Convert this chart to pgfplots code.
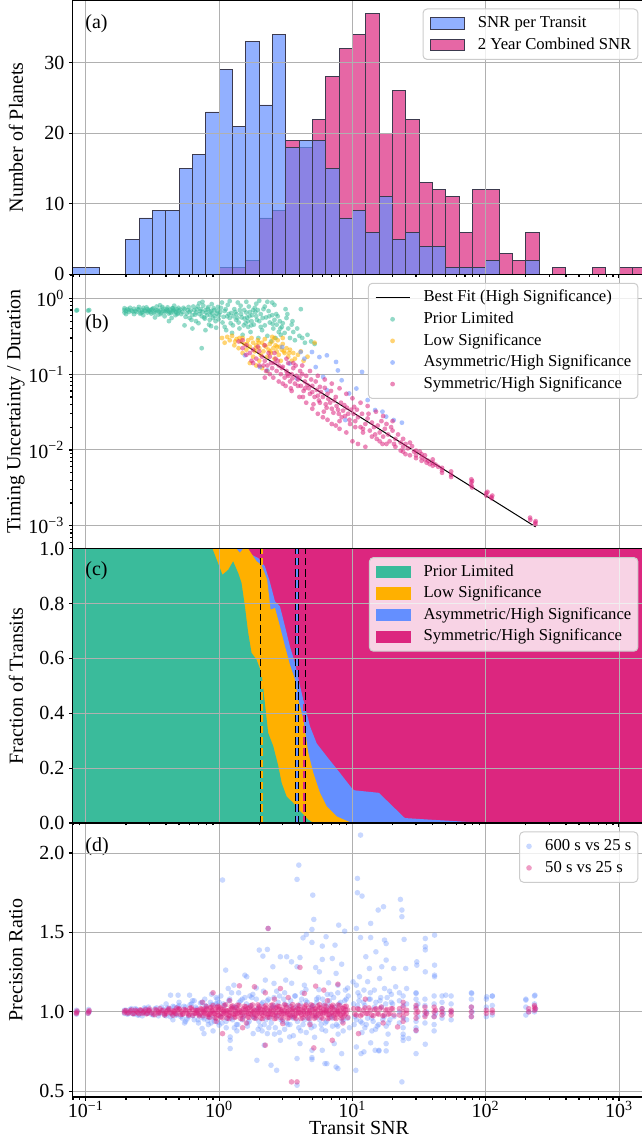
\documentclass[border=0pt]{standalone}
\usepackage{fontspec}
\setmainfont{Liberation Serif}
\usepackage{pgfplots}
\pgfplotsset{compat=1.18}
\definecolor{cgreen}{RGB}{58,187,155}
\definecolor{corange}{RGB}{255,176,0}
\definecolor{cblue}{RGB}{100,143,255}
\definecolor{cmag}{RGB}{220,38,127}
\definecolor{gridc}{RGB}{176,176,176}
\definecolor{legc}{RGB}{204,204,204}
\definecolor{edgec}{RGB}{60,58,78}
\begin{document}
\begin{tikzpicture}
\useasboundingbox (0,0) rectangle (321pt,571pt);
% ---------------- (a) ----------------
\begin{axis}[at={(36.25pt,433.8pt)}, anchor=south west,
  scale only axis, width=286.6pt, height=137.15pt,
  xmode=log, xmin=0.07943, xmax=1584.9,
  axis on top, grid=major, major grid style={line width=0.5pt, draw=gridc},
  tick align=outside, tick pos=left, major tick length=1.8pt, minor tick length=1.2pt,
  tick style={black, line width=0.6pt}, axis line style={line width=0.8pt},
  xtick={0.1,1,10,100,1000}, xticklabels={},
  minor xtick={0.08,0.09,0.2,0.3,0.4,0.5,0.6,0.7,0.8,0.9,2,3,4,5,6,7,8,9,20,30,40,50,60,70,80,90,200,300,400,500,600,700,800,900},
  /pgf/number format/assume math mode=true,
  yticklabel style={anchor=east, inner sep=0pt, xshift=-2.1pt},
  ylabel style={at={(axis description cs:-0.0986,0.5)}, anchor=center},
  legend cell align=left,
  legend style={at={(rel axis cs:1,1)}, anchor=north east, xshift=-3.65pt, yshift=-4.2pt,
    font=\fontsize{8.33}{10}\selectfont, draw=legc, line width=0.5pt, rounded corners=2pt,
    fill=white, fill opacity=0.8, draw opacity=1, text opacity=1,
    inner xsep=3.3pt, inner ysep=3.3pt, row sep=3pt, column sep=6.7pt,
    nodes={inner sep=0pt, text height=6pt, text depth=1.8pt}},
  ymin=0, ymax=38.85, ytick={0,10,20,30}, ylabel={Number of Planets}]
\addlegendimage{area legend, sharp corners, fill=cblue, fill opacity=0.7, draw=edgec, line width=0.4pt}
\addlegendentry{SNR per Transit}
\addlegendimage{area legend, sharp corners, fill=cmag, fill opacity=0.7, draw=edgec, line width=0.4pt}
\addlegendentry{2 Year Combined SNR}
\addplot[const plot, forget plot, fill=cmag, fill opacity=0.7, draw=edgec, line width=0.4pt] coordinates {
(1,1) (1.2589,1) (1.5849,2) (1.9953,8) (2.5119,9) (3.1623,19) (3.9811,18) (5.0119,22) (6.3096,28) (7.9433,32) (10,34) (12.589,37) (15.849,20) (19.953,26) (25.119,22) (31.623,13) (39.811,12) (50.119,11) (63.096,6) (79.433,12) (100,12) (125.89,3) (158.49,2) (199.53,6) (251.19,0) (316.23,1) (398.11,0) (501.19,0) (630.96,1) (794.33,0) (1000,1) (1258.9,1) (1584.9,1)} \closedcycle;
\addplot[ycomb, forget plot, draw=edgec, line width=0.4pt, no marks] coordinates {
(1,1) (1.2589,1) (1.5849,2) (1.9953,8) (2.5119,9) (3.1623,19) (3.9811,19) (5.0119,22) (6.3096,28) (7.9433,32) (10,34) (12.589,37) (15.849,37) (19.953,26) (25.119,26) (31.623,22) (39.811,13) (50.119,12) (63.096,11) (79.433,12) (100,12) (125.89,12) (158.49,3) (199.53,6) (251.19,6) (316.23,1) (398.11,1) (630.96,1) (794.33,1) (1000,1) (1258.9,1) (1584.9,1)};
\addplot[const plot, forget plot, fill=cblue, fill opacity=0.7, draw=edgec, line width=0.4pt] coordinates {
(0.07943,1) (0.1,1) (0.12589,0) (0.15849,0) (0.19953,5) (0.25119,8) (0.31623,9) (0.39811,9) (0.50119,15) (0.63096,17) (0.79433,23) (1,29) (1.2589,21) (1.5849,33) (1.9953,24) (2.5119,34) (3.1623,18) (3.9811,19) (5.0119,19) (6.3096,15) (7.9433,8) (10,9) (12.589,6) (15.849,11) (19.953,5) (25.119,6) (31.623,4) (39.811,4) (50.119,1) (63.096,1) (79.433,1) (100,2) (125.89,0) (158.49,0) (199.53,2) (251.19,2)} \closedcycle;
\addplot[ycomb, forget plot, draw=edgec, line width=0.4pt, no marks] coordinates {
(0.07943,1) (0.1,1) (0.12589,1) (0.19953,5) (0.25119,8) (0.31623,9) (0.39811,9) (0.50119,15) (0.63096,17) (0.79433,23) (1,29) (1.2589,29) (1.5849,33) (1.9953,33) (2.5119,34) (3.1623,34) (3.9811,19) (5.0119,19) (6.3096,19) (7.9433,15) (10,9) (12.589,9) (15.849,11) (19.953,11) (25.119,6) (31.623,6) (39.811,4) (50.119,4) (63.096,1) (79.433,1) (100,2) (125.89,2) (199.53,2) (251.19,2)};
\node[anchor=west, inner sep=0pt] at (rel axis cs:0.0218,0.914) {(a)};
\end{axis}
% ---------------- (b) ----------------
\begin{axis}[at={(36.25pt,296.65pt)}, anchor=south west,
  scale only axis, width=286.6pt, height=137.15pt,
  xmode=log, xmin=0.07943, xmax=1584.9,
  axis on top, grid=major, major grid style={line width=0.5pt, draw=gridc},
  tick align=outside, tick pos=left, major tick length=1.8pt, minor tick length=1.2pt,
  tick style={black, line width=0.6pt}, axis line style={line width=0.8pt},
  xtick={0.1,1,10,100,1000}, xticklabels={},
  minor xtick={0.08,0.09,0.2,0.3,0.4,0.5,0.6,0.7,0.8,0.9,2,3,4,5,6,7,8,9,20,30,40,50,60,70,80,90,200,300,400,500,600,700,800,900},
  /pgf/number format/assume math mode=true,
  yticklabel style={anchor=east, inner sep=0pt, xshift=-2.1pt},
  ylabel style={at={(axis description cs:-0.0986,0.5)}, anchor=center},
  legend cell align=left,
  legend style={at={(rel axis cs:1,1)}, anchor=north east, xshift=-3.65pt, yshift=-4.2pt,
    font=\fontsize{8.33}{10}\selectfont, draw=legc, line width=0.5pt, rounded corners=2pt,
    fill=white, fill opacity=0.8, draw opacity=1, text opacity=1,
    inner xsep=3.3pt, inner ysep=3.3pt, row sep=3pt, column sep=6.7pt,
    nodes={inner sep=0pt, text height=6pt, text depth=1.8pt}},
  ymode=log, ymin=4.98e-4, ymax=2.07,
  ytick={0.001,0.01,0.1,1},
  yticklabels={10\textsuperscript{−3},10\textsuperscript{−2},10\textsuperscript{−1},10\textsuperscript{0}},
  minor ytick={0.0005,0.0006,0.0007,0.0008,0.0009,0.002,0.003,0.004,0.005,0.006,0.007,0.008,0.009,0.02,0.03,0.04,0.05,0.06,0.07,0.08,0.09,0.2,0.3,0.4,0.5,0.6,0.7,0.8,0.9,2},
  ylabel={Timing Uncertainty / Duration}]
\addlegendimage{black, line width=0.5pt, sharp corners}
\addlegendentry{Best Fit (High Significance)}
\addplot[only marks, mark=*, color=cgreen, mark size=1.2pt, mark options={fill=cgreen, fill opacity=0.55, draw opacity=0}] coordinates {
(0.085,0.69) (0.086,0.7) (0.104,0.69) (0.106,0.7)
(0.195,0.65) (0.195,0.7) (0.195,0.74) (0.2,0.68) (0.2,0.62) (0.205,0.72) (0.21,0.66) (0.21,0.7)
(0.22,0.69) (0.23,0.73) (0.24,0.66) (0.25,0.71) (0.26,0.64) (0.27,0.75) (0.28,0.68) (0.29,0.72) (0.23,0.62) (0.25,0.77) (0.27,0.6) (0.29,0.65)
(0.215,0.75) (0.235,0.68) (0.255,0.63) (0.265,0.7) (0.285,0.76) (0.305,0.66) (0.315,0.72) (0.335,0.7) (0.355,0.67) (0.375,0.77) (0.395,0.66) (0.415,0.69) (0.435,0.64) (0.455,0.7) (0.475,0.66) (0.495,0.75)
(0.3,0.7) (0.31,0.63) (0.32,0.74) (0.33,0.67) (0.34,0.78) (0.35,0.61) (0.36,0.7) (0.37,0.65) (0.38,0.73) (0.39,0.58) (0.4,0.69) (0.41,0.76) (0.42,0.63) (0.43,0.71) (0.44,0.55) (0.45,0.67) (0.46,0.8) (0.47,0.6) (0.48,0.72) (0.49,0.64) (0.5,0.69) (0.33,0.56) (0.42,0.5) (0.36,0.81) (0.45,0.74)
(0.225,0.67) (0.245,0.72) (0.265,0.66) (0.275,0.69) (0.295,0.68) (0.31,0.71) (0.325,0.64) (0.345,0.69) (0.365,0.62) (0.385,0.68) (0.405,0.72) (0.425,0.66) (0.445,0.74) (0.465,0.69) (0.485,0.62)
(0.51,0.71) (0.53,0.66) (0.55,0.72) (0.57,0.63) (0.59,0.77) (0.61,0.69) (0.63,0.6) (0.65,0.7) (0.67,0.65) (0.69,0.78) (0.71,0.62) (0.73,0.72) (0.75,0.66) (0.77,0.56) (0.79,0.7) (0.81,0.6) (0.83,0.77) (0.85,0.52) (0.87,0.68) (0.89,0.63) (0.91,0.74) (0.93,0.58) (0.97,0.68) (0.99,0.53)
(0.52,0.62) (0.54,0.75) (0.56,0.57) (0.58,0.7) (0.6,0.66) (0.62,0.52) (0.64,0.78) (0.66,0.61) (0.68,0.72) (0.7,0.47) (0.72,0.68) (0.74,0.58) (0.76,0.8) (0.78,0.54) (0.8,0.65) (0.82,0.73) (0.84,0.45) (0.86,0.6) (0.88,0.84) (0.9,0.55) (0.92,0.7) (0.94,0.5) (0.96,0.63) (0.98,0.77) (0.55,0.44) (0.63,0.4) (0.71,0.86) (0.79,0.38) (0.87,0.43) (0.95,0.41) (0.74,0.22) (0.6,0.55) (0.85,0.67) (0.67,0.5) (0.75,0.9)
(1.0,0.6) (1.03,0.75) (1.06,0.48) (1.1,0.68) (1.13,0.38) (1.16,0.82) (1.2,0.55) (1.23,0.64) (1.27,0.44) (1.3,0.72) (1.34,0.52) (1.38,0.88) (1.42,0.4) (1.46,0.62) (1.5,0.33) (1.54,0.7) (1.58,0.47) (1.62,0.56) (1.67,0.78) (1.72,0.36) (1.77,0.6) (1.82,0.45) (1.87,0.66) (1.92,0.52) (1.97,0.3) (1.05,0.88) (1.25,0.35) (1.45,0.8) (1.65,0.42) (1.85,0.75) (1.15,0.58) (1.35,0.62) (1.55,0.54) (1.75,0.5) (1.95,0.7) (1.1,0.42) (1.4,0.48) (1.7,0.66)
(1.02,0.66) (1.08,0.57) (1.12,0.72) (1.18,0.62) (1.22,0.47) (1.28,0.58) (1.32,0.66) (1.37,0.55) (1.43,0.7) (1.48,0.56) (1.53,0.44) (1.6,0.65) (1.64,0.5) (1.69,0.58) (1.74,0.44) (1.8,0.7) (1.9,0.58) (1.2,0.92) (1.6,0.9) (1.9,0.85)
(2.0,0.5) (2.05,0.62) (2.1,0.38) (2.15,0.72) (2.2,0.44) (2.25,0.56) (2.3,0.32) (2.35,0.68) (2.4,0.48) (2.45,0.27) (2.5,0.6) (2.55,0.4) (2.6,0.52) (2.65,0.3) (2.7,0.45) (2.75,0.58) (2.8,0.36) (2.85,0.5) (2.9,0.33) (2.95,0.42) (2.3,0.9) (2.6,0.82) (2.2,0.78)
(2.05,0.42) (2.12,0.55) (2.38,0.58) (2.52,0.46) (2.68,0.62) (2.88,0.4) (2.0,0.93) (2.5,0.88)
(3.0,0.47) (3.1,0.35) (3.2,0.55) (3.3,0.4) (3.4,0.3) (3.5,0.45) (3.6,0.36) (3.7,0.28) (3.85,0.4) (4.0,0.32) (4.1,0.72) (4.2,0.3) (4.4,0.26) (4.6,0.33) (4.9,0.27) (5.2,0.25) (3.25,0.62) (3.55,0.5) (3.15,0.72)};
\addlegendentry{Prior Limited}
\addplot[only marks, mark=*, color=corange, mark size=1.2pt, mark options={fill=corange, fill opacity=0.55, draw opacity=0}] coordinates {
(1.05,0.3) (1.1,0.26) (1.15,0.31) (1.2,0.28) (1.3,0.24) (1.35,0.29) (1.4,0.22) (1.45,0.27) (1.5,0.3) (1.55,0.25) (1.6,0.21) (1.65,0.28) (1.7,0.23) (1.75,0.3) (1.8,0.26) (1.85,0.2) (1.9,0.24) (1.95,0.28) (2.0,0.22) (2.05,0.18) (2.1,0.26) (2.15,0.2) (2.2,0.29) (2.25,0.23) (2.3,0.17) (2.35,0.21) (2.4,0.25) (2.45,0.19) (2.5,0.27) (2.55,0.22) (2.6,0.16) (2.65,0.24) (2.7,0.2) (2.75,0.28) (2.8,0.18) (2.85,0.23) (2.9,0.15) (2.95,0.21) (3.0,0.25) (3.1,0.19) (3.2,0.22) (3.3,0.17) (3.4,0.21) (3.5,0.15) (3.6,0.19) (3.7,0.16) (3.9,0.18) (4.1,0.2) (4.3,0.15) (4.6,0.17) (5.2,0.26) (1.25,0.32) (1.7,0.14) (1.9,0.13) (2.1,0.12) (2.0,0.15) (2.3,0.11) (1.8,0.17) (1.5,0.19) (2.6,0.3) (3.0,0.3)
(1.32,0.27) (1.62,0.25) (1.88,0.22) (2.18,0.24) (2.42,0.2) (2.72,0.23) (3.05,0.2) (3.35,0.19) (1.42,0.3) (1.98,0.26) (2.5,0.31)};
\addlegendentry{Low Significance}
\addplot[only marks, mark=*, color=cblue, mark size=1.2pt, mark options={fill=cblue, fill opacity=0.55, draw opacity=0}] coordinates {
(4.97,0.196) (5.65,0.168) (6.43,0.177) (7.54,0.145) (7.78,0.112) (11.8,0.107) (10.7,0.0646) (17.9,0.0275) (23.5,0.0229) (14.8,0.0336) (2.3,0.112) (3.38,0.138) (3.84,0.0875) (4.36,0.16) (5.3,0.124) (6.03,0.092) (8.3,0.083) (9.44,0.0556) (13.0,0.0455) (16.8,0.032) (20.4,0.0248) (1.56,0.177) (2.02,0.124) (2.97,0.228) (4.09,0.196) (8.85,0.0248) (6.43,0.0615)};
\addlegendentry{Asymmetric/High Significance}
\addplot[only marks, mark=*, color=cmag, mark size=1.2pt, mark options={fill=cmag, fill opacity=0.55, draw opacity=0}] coordinates {
(1.4,0.27) (1.5,0.22) (1.6,0.24) (1.7,0.19) (1.8,0.21) (1.9,0.16) (2.0,0.2) (1.75,0.15) (2.1,0.17) (1.95,0.23)
(2.2,0.15) (2.3,0.13) (2.4,0.17) (2.5,0.12) (2.6,0.14) (2.7,0.11) (2.8,0.13) (2.9,0.10) (2.35,0.19) (2.55,0.09) (2.65,0.16) (2.25,0.11) (2.45,0.14) (2.75,0.15) (2.95,0.12) (2.15,0.13)
(3.0,0.125) (3.1,0.09) (3.2,0.11) (3.3,0.14) (3.4,0.08) (3.5,0.10) (3.6,0.12) (3.7,0.075) (3.8,0.095) (3.9,0.085) (3.15,0.07) (3.45,0.065) (3.75,0.13) (3.25,0.1) (3.55,0.088)
(4.0,0.09) (4.1,0.07) (4.2,0.1) (4.3,0.06) (4.4,0.08) (4.6,0.072) (4.8,0.055) (4.9,0.085) (4.5,0.095) (4.7,0.065) (4.25,0.05) (4.05,0.11)
(5.0,0.07) (5.2,0.05) (5.4,0.062) (5.6,0.045) (5.8,0.058) (6.0,0.05) (6.3,0.04) (6.5,0.055) (6.8,0.042) (7.0,0.035) (5.3,0.08) (5.7,0.068) (6.1,0.032) (6.6,0.047) (5.1,0.04) (6.9,0.06) (5.5,0.052) (6.2,0.066)
(7.3,0.045) (7.6,0.038) (7.9,0.03) (8.2,0.042) (8.5,0.033) (8.8,0.028) (9.1,0.036) (9.5,0.025) (7.5,0.05) (8.0,0.024) (8.7,0.039) (9.3,0.03) (9.8,0.034) (7.8,0.034)
(10.2,0.03) (10.5,0.024) (10.8,0.034) (11,0.027) (11.5,0.02) (11.8,0.03) (12.5,0.022) (13,0.026) (13.5,0.018) (14,0.023) (14.5,0.02) (10.3,0.037) (12,0.017) (13.2,0.03) (14.8,0.016)
(15.5,0.021) (16,0.017) (16.5,0.024) (17,0.015) (17.5,0.019) (18,0.022) (18.5,0.016) (19,0.013) (20,0.018) (21,0.014) (22,0.016) (15.2,0.014) (19.5,0.02) (16.8,0.012) (20.5,0.012)
(3.5,0.06) (4.0,0.05) (4.5,0.042) (5.0,0.035) (5.5,0.03) (6.0,0.027) (6.5,0.025) (7.0,0.022) (7.5,0.021) (8.0,0.019) (9.0,0.017) (10,0.013) (11,0.012) (12.5,0.011)
(3.2,0.16) (3.6,0.14) (4.2,0.13) (4.8,0.11) (5.5,0.095) (6.2,0.085) (7,0.075) (8,0.065) (9,0.055) (10,0.048) (11.5,0.042) (13,0.038) (15,0.032) (17,0.028) (20,0.024)
(3.3,0.095) (3.9,0.07) (4.4,0.065) (5.0,0.058) (5.7,0.042) (6.4,0.036) (7.2,0.031) (8.3,0.027) (9.6,0.022) (10.5,0.02) (12,0.019) (14,0.015) (16,0.013) (18,0.012) (21,0.011) (25,0.0088) (27,0.0125) (32,0.0095) (36,0.0068) (2.8,0.08) (2.4,0.1) (2.2,0.09) (3.0,0.075) (2.6,0.19) (2.0,0.13) (1.8,0.14) (1.6,0.18) (1.5,0.28) (2.2,0.24)
(23,0.0125) (24,0.014) (24,0.011) (24,0.0095) (25,0.012) (26,0.0105) (27,0.0085) (28,0.0112) (29,0.0095) (30,0.0098) (30,0.0085) (30,0.0078) (23,0.0098)
(33,0.008) (33,0.0072) (33,0.0088) (35,0.0085) (35,0.0075) (37,0.0072) (38,0.0065) (40,0.0068) (40,0.0075) (40,0.0062) (42,0.0064) (44,0.006)
(47,0.0058) (47,0.0054) (47,0.005) (55,0.0052) (55,0.0047) (55,0.0044)
(78,0.0041) (78,0.0037) (78,0.0034) (79,0.0039) (79,0.0032)
(101,0.0027) (101,0.0025) (103,0.0028) (110,0.0024) (111,0.0023) (112,0.0025)
(215,0.00128) (216,0.0012) (235,0.0011) (236,0.00105) (237,0.00115)};
\addlegendentry{Symmetric/High Significance}
\addplot[forget plot, black, line width=0.5pt] coordinates {(1.44,0.265) (237,0.000965)};
\node[anchor=west, inner sep=0pt] at (rel axis cs:0.0218,0.819) {(b)};
\end{axis}
% ---------------- (c) ----------------
\begin{axis}[at={(36.25pt,159.5pt)}, anchor=south west,
  scale only axis, width=286.6pt, height=137.15pt,
  xmode=log, xmin=0.07943, xmax=1584.9,
  axis on top, grid=major, major grid style={line width=0.5pt, draw=gridc},
  tick align=outside, tick pos=left, major tick length=1.8pt, minor tick length=1.2pt,
  tick style={black, line width=0.6pt}, axis line style={line width=0.8pt},
  xtick={0.1,1,10,100,1000}, xticklabels={},
  minor xtick={0.08,0.09,0.2,0.3,0.4,0.5,0.6,0.7,0.8,0.9,2,3,4,5,6,7,8,9,20,30,40,50,60,70,80,90,200,300,400,500,600,700,800,900},
  /pgf/number format/assume math mode=true,
  /pgf/number format/fixed, /pgf/number format/fixed zerofill, /pgf/number format/precision=1,
  yticklabel style={anchor=east, inner sep=0pt, xshift=-2.1pt},
  ylabel style={at={(axis description cs:-0.0986,0.5)}, anchor=center},
  legend cell align=left,
  legend style={at={(rel axis cs:1,1)}, anchor=north east, xshift=-3.65pt, yshift=-4.2pt,
    font=\fontsize{8.33}{10}\selectfont, draw=legc, line width=0.5pt, rounded corners=2pt,
    fill=white, fill opacity=0.8, draw opacity=1, text opacity=1,
    inner xsep=3.3pt, inner ysep=3.3pt, row sep=3pt, column sep=6.7pt,
    nodes={inner sep=0pt, text height=6pt, text depth=1.8pt}},
  ymin=0, ymax=1, ytick={0,0.2,0.4,0.6,0.8,1},
  ylabel={Fraction of Transits}]
\addlegendimage{area legend, sharp corners, fill=cgreen, draw=cgreen, fill opacity=1, line width=0pt}
\addlegendentry{Prior Limited}
\addlegendimage{area legend, sharp corners, fill=corange, draw=corange, fill opacity=1, line width=0pt}
\addlegendentry{Low Significance}
\addlegendimage{area legend, sharp corners, fill=cblue, draw=cblue, fill opacity=1, line width=0pt}
\addlegendentry{Asymmetric/High Significance}
\addlegendimage{area legend, sharp corners, fill=cmag, draw=cmag, fill opacity=1, line width=0pt}
\addlegendentry{Symmetric/High Significance}
\addplot[forget plot, fill=cmag, draw=none] coordinates {(0.05,1) (2000,1)} \closedcycle;
\addplot[forget plot, fill=cblue, draw=none] coordinates {
(0.05,1) (1.652,1) (1.718,0.98) (1.963,0.966) (2.203,0.936) (2.377,0.887) (2.624,0.808) (2.858,0.79) (3.119,0.717) (3.396,0.644) (3.707,0.583) (4.046,0.498) (4.406,0.425) (4.808,0.352) (5.395,0.29) (6.412,0.243) (8.072,0.182) (10,0.124) (10.4,0.119) (15.78,0.11) (24.72,0.018) (38.8,0.012) (73.6,0.004) (101.6,0) (2000,0)} \closedcycle;
\addplot[forget plot, fill=corange, draw=none] coordinates {
(0.05,1) (1.349,1) (1.429,0.985) (1.514,1) (1.652,1) (1.91,0.954) (2.08,0.94) (2.291,0.887) (2.432,0.778) (2.624,0.784) (2.858,0.717) (3.119,0.644) (3.396,0.577) (3.707,0.523) (3.926,0.45) (4.285,0.377) (4.667,0.255) (5.093,0.182) (5.715,0.109) (6.412,0.061) (7.621,0.024) (9.057,0.008) (10,0) (2000,0)} \closedcycle;
\addplot[forget plot, fill=cgreen, draw=none] coordinates {
(0.05,1) (0.891,1) (1.059,0.905) (1.17,0.923) (1.274,0.954) (1.39,0.911) (1.472,0.875) (1.56,0.79) (1.652,0.693) (1.75,0.62) (1.91,0.595) (2.08,0.547) (2.203,0.437) (2.333,0.328) (2.547,0.28) (2.78,0.207) (2.944,0.146) (3.206,0.097) (3.597,0.073) (4.046,0.043) (4.667,0.012) (5.093,0) (2000,0)} \closedcycle;
\addplot[forget plot, draw=black, line width=0.35pt, dash pattern=on 3.7pt off 1.9pt, double=corange, double distance=0.9pt] coordinates {(2.09,0) (2.09,1)};
\addplot[forget plot, draw=black, line width=0.35pt, dash pattern=on 3.7pt off 1.9pt, double=cblue, double distance=0.9pt] coordinates {(3.84,0) (3.84,1)};
\addplot[forget plot, draw=black, line width=0.35pt, dash pattern=on 3.7pt off 1.9pt, double=cmag, double distance=0.9pt] coordinates {(4.35,0) (4.35,1)};
\node[anchor=west, inner sep=0pt] at (rel axis cs:0.0218,0.92) {(c)};
\end{axis}
% ---------------- (d) ----------------
\begin{axis}[at={(36.25pt,22.35pt)}, anchor=south west,
  scale only axis, width=286.6pt, height=137.15pt,
  xmode=log, xmin=0.07943, xmax=1584.9,
  axis on top, grid=major, major grid style={line width=0.5pt, draw=gridc},
  tick align=outside, tick pos=left, major tick length=1.8pt, minor tick length=1.2pt,
  tick style={black, line width=0.6pt}, axis line style={line width=0.8pt},
  xtick={0.1,1,10,100,1000},
  xticklabels={10\textsuperscript{−1},10\textsuperscript{0},10\textsuperscript{1},10\textsuperscript{2},10\textsuperscript{3}},
  minor xtick={0.08,0.09,0.2,0.3,0.4,0.5,0.6,0.7,0.8,0.9,2,3,4,5,6,7,8,9,20,30,40,50,60,70,80,90,200,300,400,500,600,700,800,900},
  /pgf/number format/assume math mode=true,
  /pgf/number format/fixed, /pgf/number format/fixed zerofill, /pgf/number format/precision=1,
  yticklabel style={anchor=east, inner sep=0pt, xshift=-2.1pt},
  xticklabel style={anchor=base, inner sep=0pt, yshift=-8.5pt},
  ylabel style={at={(axis description cs:-0.0986,0.5)}, anchor=center},
  xlabel style={at={(axis description cs:0.5,0)}, anchor=base, yshift=-18.85pt},
  legend cell align=left,
  legend style={at={(rel axis cs:1,1)}, anchor=north east, xshift=-3.65pt, yshift=-4.2pt,
    font=\fontsize{8.33}{10}\selectfont, draw=legc, line width=0.5pt, rounded corners=2pt,
    fill=white, fill opacity=0.8, draw opacity=1, text opacity=1,
    inner xsep=3.3pt, inner ysep=3.3pt, row sep=3pt, column sep=6.7pt,
    nodes={inner sep=0pt, text height=6pt, text depth=1.8pt}},
  ymin=0.462, ymax=2.189, ytick={0.5,1,1.5,2},
  xlabel={Transit SNR}, ylabel={Precision Ratio}]
\addplot[only marks, mark=*, color=cblue, mark size=1.4pt, mark options={fill=cblue, fill opacity=0.35, draw opacity=0}] coordinates {
(0.085,0.985) (0.085,1.01) (0.086,1.0) (0.104,0.99) (0.105,1.015) (0.106,1.0) (0.195,0.99) (0.195,1.01)
(0.20,1.01) (0.21,0.99) (0.22,1.02) (0.23,0.985) (0.24,1.015) (0.25,0.98) (0.26,1.005) (0.27,0.995) (0.28,1.02) (0.29,0.99) (0.30,1.01) (0.32,0.98) (0.34,1.025) (0.36,0.99) (0.38,1.015) (0.40,0.975) (0.42,1.02) (0.44,0.985) (0.46,1.03) (0.48,0.98)
(0.205,0.985) (0.215,1.015) (0.225,0.99) (0.235,1.02) (0.245,0.98) (0.255,1.01) (0.265,0.975) (0.275,1.025) (0.285,0.99) (0.295,1.03) (0.31,0.985) (0.33,1.02) (0.35,0.975) (0.37,1.03) (0.39,0.98) (0.41,1.025) (0.43,0.97) (0.45,1.035) (0.47,0.98) (0.49,1.03)
(0.4,1.05) (0.45,0.95) (0.5,1.06) (0.56,0.94) (0.63,1.07) (0.7,0.93) (0.78,1.08) (0.87,0.93) (0.97,1.08)
(0.50,1.04) (0.53,0.96) (0.56,1.03) (0.59,0.97) (0.62,1.05) (0.65,0.95) (0.68,1.02) (0.71,0.98) (0.74,1.06) (0.77,0.955) (0.80,1.035) (0.84,0.965) (0.88,1.045) (0.92,0.94) (0.96,1.05)
(0.515,0.97) (0.545,1.035) (0.575,0.955) (0.605,1.045) (0.635,0.975) (0.665,1.03) (0.695,0.95) (0.725,1.055) (0.755,0.965) (0.785,1.04) (0.82,0.945) (0.86,1.06) (0.90,0.96) (0.94,1.05) (0.98,0.935)
(1.00,1.06) (1.05,0.93) (1.10,1.04) (1.15,0.96) (1.20,1.08) (1.26,0.95) (1.32,1.03) (1.38,0.92) (1.45,1.07) (1.52,0.97) (1.60,1.05) (1.68,0.94) (1.76,1.09) (1.85,0.96) (1.94,1.02) (2.03,0.91) (2.13,1.06) (2.24,0.95) (2.35,1.08) (2.46,0.93) (2.58,1.04) (2.70,0.97) (2.84,1.1) (2.98,0.94) (3.12,1.05) (3.28,0.92) (3.44,1.07) (3.60,0.96) (3.78,1.03) (3.96,0.9) (4.16,1.08) (4.36,0.95) (4.58,1.06) (4.80,0.93) (5.04,1.04) (5.28,0.97) (5.54,1.09) (5.82,0.92) (6.10,1.05) (6.40,0.94) (6.72,1.07) (7.05,0.96) (7.40,1.03) (7.76,0.91) (8.15,1.06) (8.55,0.95) (8.97,1.08)
(1.025,0.97) (1.076,1.05) (1.128,0.94) (1.18,1.07) (1.23,0.96) (1.29,1.03) (1.35,0.92) (1.41,1.06) (1.49,0.95) (1.56,1.09) (1.64,0.93) (1.72,1.04) (1.8,0.97) (1.9,1.08) (1.99,0.94) (2.08,1.05) (2.18,0.92) (2.3,1.07) (2.41,0.96) (2.52,1.03) (2.64,0.9) (2.77,1.06) (2.91,0.95) (3.05,1.08) (3.2,0.93) (3.36,1.04) (3.53,0.97) (3.69,1.1) (3.87,0.94) (4.06,1.05) (4.26,0.92) (4.47,1.07) (4.69,0.96) (4.92,1.03) (5.17,0.91) (5.41,1.06) (5.68,0.95) (5.97,1.08) (6.25,0.93) (6.56,1.04) (6.89,0.97) (7.23,1.09) (7.59,0.92) (7.95,1.05) (8.35,0.94) (8.76,1.07) (9.19,0.96)
(1.03,1.1) (1.13,0.9) (1.24,1.12) (1.36,0.88) (1.49,1.08) (1.63,0.91) (1.79,1.11) (1.96,0.89) (2.15,1.13) (2.36,0.9) (2.58,1.09) (2.83,0.87) (3.1,1.12) (3.4,0.92) (3.73,1.1) (4.09,0.88) (4.48,1.14) (4.91,0.9) (5.38,1.08) (5.9,0.89) (6.47,1.11) (7.09,0.91) (7.77,1.12) (8.52,0.88) (9.3,1.1) (10.3,0.92) (11.3,1.1) (12.4,0.9) (13.6,1.12) (14.9,0.89) (16.3,1.09) (17.9,0.91) (19.6,1.11)
(10.2,1.05) (10.7,0.95) (11.2,1.07) (11.8,0.93) (12.4,1.04) (13.0,0.96) (13.6,1.08) (14.3,0.94) (15.0,1.06) (15.7,0.92) (16.5,1.03) (17.3,0.97) (18.2,1.09) (19.1,0.95) (20.0,1.05)
(10.45,0.97) (10.95,1.04) (11.5,0.94) (12.1,1.06) (12.7,0.92) (13.3,1.08) (13.95,0.96) (14.65,1.03) (15.35,0.91) (16.1,1.07) (16.9,0.95) (17.75,1.05) (18.65,0.93) (19.55,1.06) (20.5,0.97)
(22.5,0.93) (22.5,1.0) (22.5,1.07) (22.5,1.12) (24,0.9) (24,0.96) (24,1.04) (24,1.1) (24,0.86) (25.5,0.95) (25.5,1.05)
(30,0.88) (30,0.94) (30,1.03) (30,1.08) (30,1.12) (31,0.97) (31,1.05) (35,0.93) (35,0.98) (35,1.04) (35,1.08) (36,1.0)
(41,0.92) (41,0.97) (41,1.05) (41,1.1) (42,0.99) (47,0.96) (47,1.02) (47,1.06) (47,1.1) (48,0.99) (55,0.95) (55,1.0) (55,1.05) (55,1.1)
(78,0.97) (78,1.03) (78,1.08) (78,1.12) (79,1.0) (101,0.97) (101,1.03) (101,1.08) (112,0.98) (112,1.04) (112,1.1)
(200,0.98) (200,1.03) (200,1.08) (210,1.0) (232,1.0) (232,1.05) (232,1.1) (236,1.02)
(11.5,2.113) (1.06,1.83) (3.96,1.924) (3.84,1.834) (10.9,1.84) (10.9,1.75) (11.8,1.729) (5.04,1.735) (15.6,1.641) (17.1,1.662) (22.9,1.708) (23.5,1.641) (23.5,1.599) (5.13,1.582) (7.89,1.546) (8.74,1.508) (13.7,1.557) (10.7,1.525) (2.33,1.525) (4.97,1.519) (4.51,1.487) (6.34,1.473) (4.26,1.466) (11.5,1.468) (13.7,1.468) (17.4,1.452) (17.9,1.43) (24.4,1.456) (41.3,1.483) (35.2,1.462) (35.2,1.41) (35.2,1.39) (4.97,1.437) (5.94,1.414) (7.4,1.42) (2.0,1.389) (2.3,1.393) (2.13,1.351) (2.88,1.347) (3.21,1.347) (4.04,1.342) (3.49,1.315) (5.94,1.33) (7.06,1.336) (12.6,1.347) (15.0,1.378) (17.9,1.326) (30.4,1.315) (30.4,1.294) (25.1,1.273) (41.3,1.294) (41.3,1.231) (41.3,1.221) (35.2,1.252) (1.12,1.263) (1.56,1.231) (2.53,1.284) (3.84,1.284) (5.3,1.279) (5.65,1.252) (7.54,1.242) (8.3,1.30) (11.3,1.221) (13.4,1.273) (16.6,1.284) (20.4,1.273) (16.0,1.21) (10.1,1.189) (0.432,1.105) (0.492,1.105) (0.6,1.105) (0.877,1.111) (1.61,1.221) (1.29,1.168) (1.17,1.147) (2.22,1.2) (2.58,1.179) (3.16,1.2) (4.36,1.168) (6.62,1.183) (7.78,1.168) (8.85,1.137) (10.7,1.168) (12.2,1.137) (14.6,1.137) (17.4,1.147) (21.1,1.158) (25.5,1.147) (30.0,1.116) (50.1,1.105) (78.5,1.116) (101.6,1.095) (112,1.099) (234,1.105) (200,1.074)
(0.746,0.895) (0.77,0.863) (1.0,0.916) (1.21,0.842) (1.21,0.821) (1.8,0.863) (2.3,0.863) (2.18,0.79) (2.88,0.821) (3.38,0.842) (4.04,0.80) (4.97,0.758) (5.94,0.758) (7.3,0.80) (8.3,0.737) (10.7,0.779) (12.2,0.748) (15.8,0.758) (17.9,0.80) (26.4,0.832) (30.0,0.737) (35.2,0.796) (1.21,0.769) (1.92,0.695) (2.45,0.664) (2.7,0.632) (3.84,0.706) (4.97,0.712) (6.22,0.674) (7.54,0.653) (7.78,0.643) (10.6,0.632) (11.6,0.737) (13.7,0.805) (14.8,0.758) (15.8,0.754) (17.9,0.754) (3.84,0.538) (23.5,0.559) (4.97,0.70) (6.43,0.674)
(1.4,1.12) (1.9,1.15) (2.7,1.13) (3.5,1.18) (4.2,1.12) (5.6,1.14) (6.9,1.11) (9.2,1.15) (11,1.12) (13,1.19) (19,1.13) (2.1,0.88) (2.6,0.86) (3.1,0.89) (3.6,0.85) (4.5,0.87) (5.2,0.84) (6.3,0.88) (7.8,0.86) (9.5,0.9) (11.8,0.87) (14,0.88) (18.5,0.86) (0.55,0.93) (0.65,1.07) (0.83,0.92) (0.95,1.09) (1.3,0.9) (1.7,1.1) (24,0.82) (24,0.84) (30,0.9) (41,0.88) (0.9,0.88)};
\addlegendentry{600 s vs 25 s}
\addplot[only marks, mark=*, color=cmag, mark size=1.4pt, mark options={fill=cmag, fill opacity=0.45, draw opacity=0}] coordinates {
(0.085,0.995) (0.086,1.005) (0.085,0.99) (0.105,1.0) (0.104,0.992) (0.106,1.008) (0.195,0.995) (0.195,1.005)
(0.20,1.008) (0.21,0.994) (0.22,1.012) (0.23,0.99) (0.24,1.005) (0.25,0.988) (0.26,1.01) (0.27,0.996) (0.28,1.014) (0.29,0.992) (0.30,1.006) (0.32,0.986) (0.34,1.011) (0.36,0.995) (0.38,1.009) (0.40,0.989) (0.42,1.013) (0.44,0.993) (0.46,1.007) (0.48,0.987)
(0.205,0.992) (0.215,1.006) (0.225,0.989) (0.235,1.01) (0.245,0.995) (0.255,1.012) (0.265,0.99) (0.275,1.004) (0.285,0.987) (0.295,1.009) (0.31,0.994) (0.33,1.013) (0.35,0.991) (0.37,1.007) (0.39,0.988) (0.41,1.011) (0.43,0.993) (0.45,1.005) (0.47,0.99) (0.49,1.014)
(0.3,1.018) (0.33,0.982) (0.36,1.02) (0.39,0.98) (0.42,1.022) (0.45,0.978) (0.48,1.024) (0.35,1.0) (0.4,1.0) (0.46,1.0)
(0.50,1.02) (0.53,0.985) (0.56,1.012) (0.59,0.978) (0.62,1.025) (0.65,0.99) (0.68,1.008) (0.71,0.975) (0.74,1.018) (0.77,0.995) (0.80,1.022) (0.84,0.982) (0.88,1.01) (0.92,0.988) (0.96,1.028) (1.00,0.98) (1.05,1.015) (1.10,0.992) (1.15,1.005) (1.20,0.976) (1.26,1.024) (1.32,0.986) (1.38,1.012) (1.45,0.979) (1.52,1.02) (1.60,0.994) (1.68,1.026) (1.76,0.983) (1.85,1.009) (1.94,0.99) (2.03,1.017) (2.13,0.977) (2.24,1.023) (2.35,0.987) (2.46,1.011) (2.58,0.98) (2.70,1.027) (2.84,0.993) (2.98,1.014) (3.12,0.984) (3.28,1.006) (3.44,0.978) (3.60,1.021) (3.78,0.989) (3.96,1.016) (4.16,0.981) (4.36,1.025) (4.58,0.991) (4.80,1.01) (5.04,0.976) (5.28,1.019) (5.54,0.985) (5.82,1.024) (6.10,0.995) (6.40,1.013) (6.72,0.982) (7.05,1.028) (7.40,0.988) (7.76,1.007) (8.15,0.979) (8.55,1.022) (8.97,0.99)
(0.515,0.982) (0.545,1.015) (0.575,0.99) (0.605,1.024) (0.635,0.978) (0.665,1.01) (0.695,0.986) (0.725,1.02) (0.755,0.975) (0.785,1.006) (0.82,0.984) (0.86,1.026) (0.90,0.992) (0.94,1.013) (0.98,0.98) (1.025,1.022) (1.076,0.988) (1.128,1.008) (1.18,0.976) (1.23,1.018) (1.29,0.983) (1.35,1.027) (1.41,0.994) (1.49,1.011) (1.56,0.979) (1.64,1.021) (1.72,0.987) (1.8,1.016) (1.9,0.977) (1.99,1.025) (2.08,0.991) (2.18,1.009) (2.3,0.981) (2.41,1.019) (2.52,0.985) (2.64,1.023) (2.77,0.978) (2.91,1.012) (3.05,0.989) (3.2,1.028) (3.36,0.982) (3.53,1.014) (3.69,0.976) (3.87,1.02) (4.06,0.993) (4.26,1.01) (4.47,0.98) (4.69,1.024) (4.92,0.986) (5.17,1.017) (5.41,0.977) (5.68,1.026) (5.97,0.99) (6.25,1.008) (6.56,0.983) (6.89,1.021) (7.23,0.979) (7.59,1.015) (7.95,0.988) (8.35,1.023) (8.76,0.981) (9.19,1.012)
(0.52,1.0) (0.6,1.003) (0.68,0.997) (0.76,1.002) (0.86,0.998) (0.97,1.0) (1.08,1.003) (1.2,0.997) (1.33,1.001) (1.47,0.998) (1.62,1.002) (1.79,0.999) (1.97,1.003) (2.17,0.997) (2.4,1.001) (2.65,0.998) (2.92,1.002) (3.22,0.999) (3.55,1.003) (3.92,0.997) (4.32,1.001) (4.77,0.998) (5.26,1.002) (5.8,0.999) (6.4,1.003) (7.06,0.997) (7.79,1.001) (8.6,0.998)
(0.505,1.015) (0.535,0.988) (0.565,1.006) (0.597,0.984) (0.628,1.014) (0.66,0.992) (0.69,1.01) (0.72,0.986) (0.75,1.012) (0.78,0.99) (0.81,1.016) (0.85,0.985) (0.89,1.006) (0.93,0.99) (0.99,1.014) (1.04,0.99) (1.09,1.012) (1.14,0.985) (1.19,1.01) (1.25,0.988) (1.31,1.014) (1.37,0.99) (1.43,1.006) (1.5,0.984) (1.58,1.015) (1.66,0.99) (1.74,1.01) (1.83,0.986) (1.92,1.012) (2.01,0.99) (2.11,1.014) (2.21,0.988) (2.32,1.01) (2.44,0.985) (2.56,1.012) (2.68,0.99) (2.81,1.016) (2.95,0.986) (3.09,1.008) (3.25,0.99) (3.41,1.013) (3.57,0.985) (3.74,1.01) (3.93,0.99) (4.12,1.014) (4.33,0.986) (4.54,1.01) (4.76,0.99) (5.0,1.013) (5.24,0.986) (5.5,1.01) (5.78,0.99) (6.06,1.014) (6.36,0.987) (6.68,1.01) (7.0,0.99) (7.35,1.012) (7.7,0.985) (8.1,1.01) (8.5,0.99) (8.9,1.012)
(0.8,1.035) (0.85,0.965) (0.9,1.04) (0.95,0.96) (1.0,1.03) (1.06,0.962) (1.12,1.045) (1.19,0.958) (1.26,1.038) (1.33,0.968) (1.41,1.042) (1.5,0.955) (1.59,1.032) (1.68,0.964) (1.78,1.044) (1.89,0.96) (2.0,1.036) (2.12,0.957) (2.24,1.04) (2.38,0.966) (2.52,1.045) (2.67,0.96) (2.83,1.034) (3.0,0.955) (3.17,1.04) (3.36,0.963) (3.56,1.046) (3.78,0.958) (4.0,1.037) (4.24,0.962) (4.49,1.043) (4.76,0.956) (5.04,1.038) (5.34,0.965) (5.66,1.045) (6.0,0.958) (6.35,1.035) (6.73,0.962) (7.13,1.042) (7.55,0.957) (8.0,1.04) (8.48,0.964) (8.98,1.036)
(0.824,0.97) (0.876,1.03) (0.927,0.964) (0.979,1.036) (1.03,0.968) (1.09,1.04) (1.15,0.96) (1.23,1.033) (1.3,0.965) (1.37,1.042) (1.45,0.958) (1.55,1.035) (1.64,0.967) (1.73,1.038) (1.83,0.962) (1.95,1.044) (2.06,0.96) (2.18,1.032) (2.31,0.966) (2.45,1.04) (2.6,0.957) (2.75,1.037) (2.91,0.963) (3.09,1.045) (3.27,0.96) (3.46,1.034) (3.67,0.966) (3.89,1.041) (4.12,0.958) (4.37,1.036) (4.62,0.962) (4.9,1.044) (5.19,0.959) (5.5,1.038) (5.83,0.964) (6.18,1.04) (6.54,0.957) (6.93,1.035) (7.34,0.962) (7.78,1.043) (8.24,0.96) (8.73,1.033) (9.25,0.965)
(10.2,1.02) (10.7,0.98) (11.2,1.015) (11.8,0.985) (12.4,1.025) (13.0,0.99) (13.6,1.01) (14.3,0.975) (15.0,1.02) (15.7,0.985) (16.5,1.03) (17.3,0.98) (18.2,1.015) (19.1,0.99) (20.0,1.02)
(10.45,0.985) (10.95,1.02) (11.5,0.975) (12.1,1.01) (12.7,0.99) (13.3,1.025) (13.95,0.98) (14.65,1.015) (15.35,0.99) (16.1,1.02) (16.9,0.975) (17.75,1.01) (18.65,0.985) (19.55,1.02) (20.5,0.98)
(22.5,0.98) (22.5,1.02) (24,0.94) (24,0.97) (24,1.0) (24,1.03) (24,1.06) (25.5,0.99) (25.5,1.01) (30,0.96) (30,0.99) (30,1.02) (30,1.04) (31,1.0) (35,0.97) (35,1.0) (35,1.03) (36,0.99) (41,0.97) (41,1.0) (41,1.03) (42,1.01) (47,0.98) (47,1.0) (47,1.02) (55,0.98) (55,1.0) (55,1.01) (78,0.97) (78,1.0) (78,1.03) (101,0.99) (101,1.01) (112,0.995) (112,1.01) (210,1.0) (210,1.02) (232,1.01) (232,1.03) (232,1.04) (236,1.02)
(2.33,1.525) (4.04,1.28) (1.42,1.164) (1.84,1.158) (2.22,1.12) (2.88,1.147) (4.36,1.116) (5.3,1.162) (7.78,1.174) (6.1,1.137) (1.06,0.863) (2.22,0.79) (3.84,0.559) (3.49,0.559) (5.13,0.773) (7.06,0.821) (11.1,0.863) (21.8,0.905) (30,0.884) (3.0,0.926) (0.75,1.06) (1.2,1.07) (0.95,0.94) (1.6,0.93) (2.6,1.08) (3.3,1.09) (4.8,0.92) (6.5,1.07) (8.5,0.93) (12.5,1.08) (17,0.93) (0.9,1.12) (1.5,0.9)};
\addlegendentry{50 s vs 25 s}
\node[anchor=west, inner sep=0pt] at (rel axis cs:0.0218,0.913) {(d)};
\end{axis}
\end{tikzpicture}
\end{document}
